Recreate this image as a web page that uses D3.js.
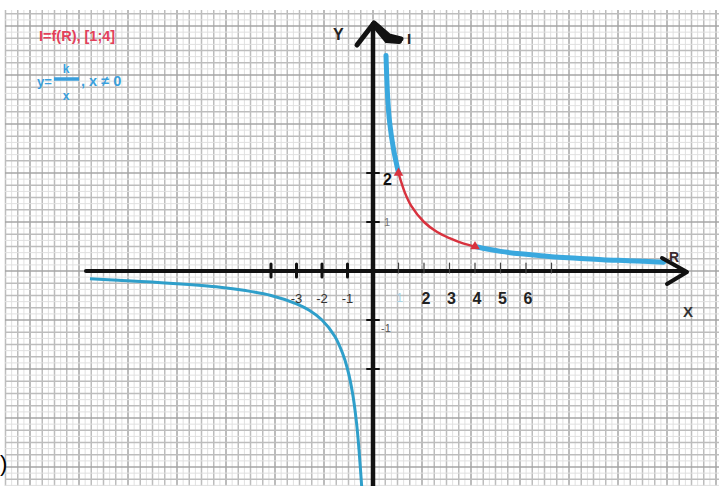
<!DOCTYPE html>
<html>
<head>
<meta charset="utf-8">
<script src="https://cdn.jsdelivr.net/npm/d3@7"></script>
<style>
  html, body { margin: 0; padding: 0; background: #fff; }
  svg { display: block; }
  text { font-family: "Liberation Sans", Arial, sans-serif; }
</style>
</head>
<body>
<svg id="chart" width="719" height="486"></svg>
<script>
// Hyperbola y = k/x, sampled points (positive branch, x > 0)
const posX = [0.51, 0.58, 0.66, 0.8, 1, 1.25, 1.5, 2, 2.5, 3, 3.5, 4, 5, 6, 7, 8, 9, 10, 11.4];
const posY = [4.4, 3.5, 3.0, 2.5, 2, 1.6, 1.33, 1, 0.8, 0.67, 0.57, 0.5, 0.4, 0.34, 0.29, 0.26, 0.23, 0.21, 0.18];
// Negative branch (x < 0)
const negX = [-11.1, -10, -8, -6, -5, -4, -3, -2.5, -2, -1.5, -1.2, -1, -0.8, -0.65, -0.55, -0.43];
const negY = [-0.16, -0.19, -0.25, -0.33, -0.4, -0.5, -0.67, -0.8, -1, -1.33, -1.67, -2, -2.5, -3.08, -3.64, -4.5];
// Highlighted interval of I = f(R) on [1;4]
const redInterval = [1, 4];
// Tick positions and labels
const xTicksNeg = [-4, -3, -2, -1];
const xTicksPos = [1, 2, 3, 4, 5, 6, 7];
const xLabelsNeg = ["-3", "-2", "-1"];
const xLabelsPos = ["2", "3", "4", "5", "6"];
const yTicks = [2, 1, -1, -2];

const svg = d3.select("#chart");
const W = 719, H = 486;

const x = d3.scaleLinear().domain([0, 1]).range([373, 398.5]);
const y = d3.scaleLinear().domain([0, 1]).range([271, 222]);

// --- grid paper background ---
const gridLeft = 5, gridTop = 10;
const step = 12.25;
const g = svg.append("g");
const half = step / 2;
const vk = d3.range(Math.ceil((gridLeft - 373) / half), Math.floor((W - 373) / half) + 1);
const hk = d3.range(Math.ceil((gridTop - 271) / half), Math.floor((H - 271) / half) + 1);
const gridColor = k => (k % 8 === 0 ? "#a6a6a6" : (k % 2 === 0 ? "#bdbdbd" : "#e0e0e0"));
g.selectAll("line.v").data(vk).join("line")
  .attr("x1", k => 373 + k * half).attr("x2", k => 373 + k * half)
  .attr("y1", gridTop).attr("y2", H)
  .attr("stroke", gridColor).attr("stroke-width", k => (k % 2 === 0 ? 1.5 : 1));
g.selectAll("line.h").data(hk).join("line")
  .attr("y1", k => 271 + k * half).attr("y2", k => 271 + k * half)
  .attr("x1", gridLeft).attr("x2", W)
  .attr("stroke", gridColor).attr("stroke-width", k => (k % 2 === 0 ? 1.5 : 1));

// --- curves ---
const posPts = posX.map((v, i) => [v, posY[i]]);
const negPts = negX.map((v, i) => [v, negY[i]]);
const lineC = d3.line().x(d => x(d[0])).y(d => y(d[1])).curve(d3.curveCatmullRom);

// negative branch, running off the bottom edge
svg.append("path").attr("d", lineC(negPts))
  .attr("fill", "none").attr("stroke", "#2f9fca").attr("stroke-width", 3);

const leftPart = posPts.filter(d => d[0] <= redInterval[0]);
const rightPart = posPts.filter(d => d[0] >= redInterval[1]);
const midPart = posPts.filter(d => d[0] >= redInterval[0] && d[0] <= redInterval[1]);
svg.append("path").attr("d", lineC(leftPart))
  .attr("fill", "none").attr("stroke", "#3aa8de").attr("stroke-width", 5).attr("stroke-linecap", "round");
svg.append("path").attr("d", lineC(rightPart))
  .attr("fill", "none").attr("stroke", "#3aa8de").attr("stroke-width", 5).attr("stroke-linecap", "round");
svg.append("path").attr("d", lineC(midPart))
  .attr("fill", "none").attr("stroke", "#d8323e").attr("stroke-width", 2.5);

// interval endpoints
[midPart[0], midPart[midPart.length - 1]].forEach(p => {
  svg.append("path")
    .attr("d", d3.symbol(d3.symbolTriangle, 40)())
    .attr("transform", `translate(${x(p[0])},${y(p[1])})`)
    .attr("fill", "#d8323e");
});

// --- axes ---
const ax = svg.append("g").attr("stroke", "#111").attr("fill", "none").attr("stroke-linecap", "round");
ax.append("line").attr("x1", 86).attr("x2", 684).attr("y1", y(0)).attr("y2", y(0)).attr("stroke-width", 4);
ax.append("path")
  .attr("d", `M${662},${y(0) - 13} L${687},${y(0) + 1} L${667},${y(0) + 13}`)
  .attr("stroke-width", 4).attr("stroke-linejoin", "round");
ax.append("line").attr("x1", x(0)).attr("x2", x(0)).attr("y1", H).attr("y2", 24).attr("stroke-width", 4.5);
ax.append("path")
  .attr("d", `M${x(0) - 16},${45} L${x(0) + 1},${23} L${x(0) + 16},${36} L${x(0) + 28},${39}`)
  .attr("stroke-width", 5).attr("stroke-linejoin", "round");
ax.append("path")
  .attr("d", `M${x(0) + 4},${28} L${x(0) + 14},${40} L${x(0) + 26},${41}`)
  .attr("stroke-width", 6);

// x ticks
ax.selectAll("line.xn").data(xTicksNeg).join("line")
  .attr("x1", d => x(d)).attr("x2", d => x(d)).attr("y1", y(0) - 7).attr("y2", y(0) + 6)
  .attr("stroke-width", 3);
ax.selectAll("line.xp").data(xTicksPos).join("line")
  .attr("x1", d => x(d)).attr("x2", d => x(d)).attr("y1", y(0) - 8).attr("y2", y(0) + 2)
  .attr("stroke-width", 1.2).attr("stroke", "#444");
// y ticks
ax.selectAll("line.yt").data(yTicks).join("line")
  .attr("x1", x(0) - 6).attr("x2", x(0) + 6).attr("y1", d => y(d)).attr("y2", d => y(d))
  .attr("stroke-width", 2);

// --- tick labels ---
svg.selectAll("text.xn").data(xLabelsNeg).join("text")
  .attr("x", d => x(+d)).attr("y", 303)
  .attr("text-anchor", "middle").attr("font-size", 13).attr("fill", "#333")
  .text(d => d);
svg.selectAll("text.xp").data(xLabelsPos).join("text")
  .attr("x", d => x(+d) + 2).attr("y", 304)
  .attr("text-anchor", "middle").attr("font-size", 16).attr("font-weight", "bold").attr("fill", "#222")
  .text(d => d);
svg.append("text").attr("x", x(1) + 1).attr("y", 302).attr("text-anchor", "middle")
  .attr("font-size", 12).attr("fill", "#a8d4e6").text("1");

svg.append("text").attr("x", x(0) + 10).attr("y", y(2) + 12).attr("font-size", 16)
  .attr("font-weight", "bold").attr("fill", "#111").text("2");
svg.append("text").attr("x", x(0) + 11).attr("y", y(1) + 4).attr("font-size", 11)
  .attr("fill", "#777").text("1");
svg.append("text").attr("x", x(0) + 8).attr("y", y(-1) + 12).attr("font-size", 11)
  .attr("fill", "#555").text("-1");

// axis names
svg.append("text").attr("x", 333).attr("y", 40).attr("font-size", 16).attr("font-weight", "bold").attr("fill", "#222").text("Y");
svg.append("text").attr("x", 407).attr("y", 44).attr("font-size", 15).attr("font-weight", "bold").attr("fill", "#222").text("I");
svg.append("text").attr("x", 669).attr("y", 262).attr("font-size", 14).attr("font-weight", "bold").attr("fill", "#3a2a2e").text("R");
svg.append("text").attr("x", 683).attr("y", 317).attr("font-size", 15).attr("font-weight", "bold").attr("fill", "#333").text("X");

// --- formulas ---
svg.append("text").attr("x", 39).attr("y", 41).attr("font-size", 14.5).attr("font-weight", "bold")
  .attr("fill", "#e3405a").text("I=f(R), [1;4]");
const blue = "#3a9fdc";
svg.append("text").attr("x", 37).attr("y", 86).attr("font-size", 13).attr("font-weight", "bold").attr("fill", blue).text("y=");
svg.append("line").attr("x1", 54).attr("x2", 79).attr("y1", 79).attr("y2", 79).attr("stroke", blue).attr("stroke-width", 3.5);
svg.append("text").attr("x", 66).attr("y", 73).attr("font-size", 12).attr("font-weight", "bold").attr("text-anchor", "middle").attr("fill", blue).text("k");
svg.append("text").attr("x", 66).attr("y", 100).attr("font-size", 12).attr("font-weight", "bold").attr("text-anchor", "middle").attr("fill", blue).text("x");
svg.append("text").attr("x", 81).attr("y", 86).attr("font-size", 14.5).attr("font-weight", "bold").attr("fill", blue).text(", x ≠ 0");

// bracket at the left edge
svg.append("text").attr("x", 0).attr("y", 471).attr("font-size", 22)
  .attr("font-family", "Liberation Serif, serif").attr("fill", "#000").text(")");
</script>
</body>
</html>
